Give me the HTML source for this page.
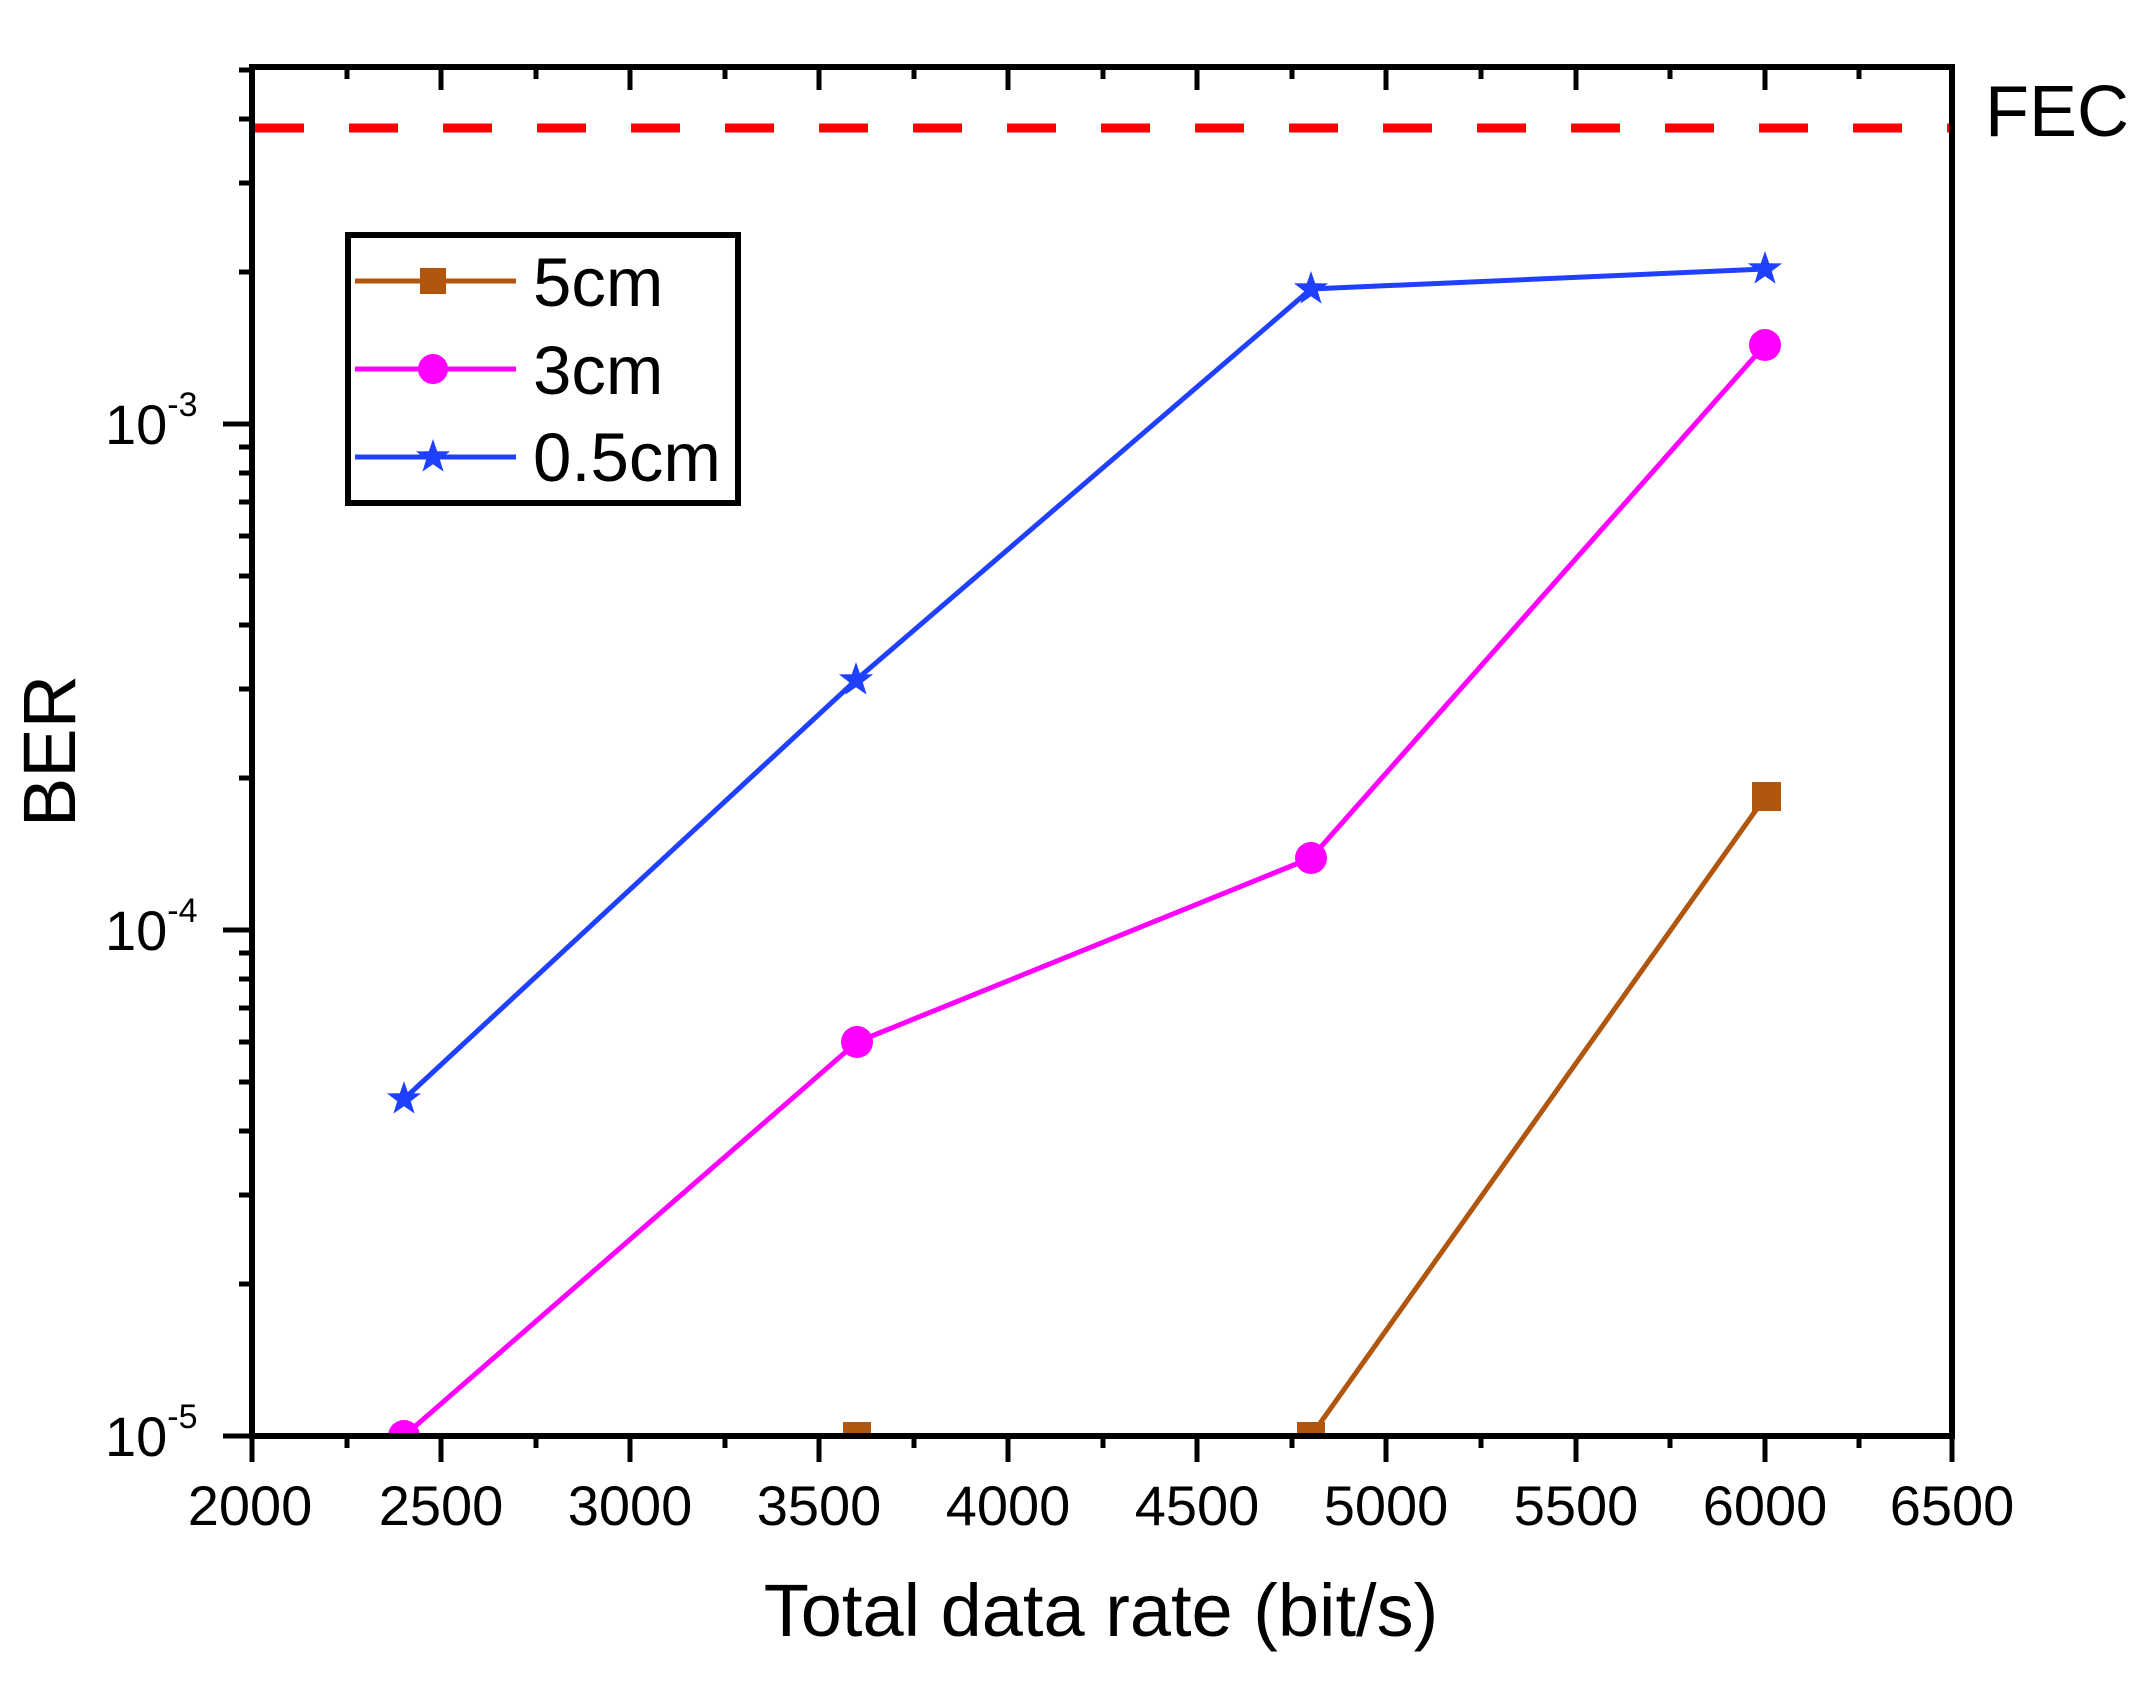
<!DOCTYPE html>
<html><head><meta charset="utf-8"><style>
html,body{margin:0;padding:0;background:#fff;}
svg{display:block;}
text{font-family:"Liberation Sans",Arial,sans-serif;fill:#000;}
</style></head><body>
<svg width="2147" height="1689" viewBox="0 0 2147 1689" xmlns="http://www.w3.org/2000/svg">
<defs>
<clipPath id="pc"><rect x="252" y="67" width="1700" height="1369"/></clipPath>
<polygon id="star" points="0,-18 4.2,-5.8 17.1,-5.6 6.8,2.2 10.6,14.6 0,7.2 -10.6,14.6 -6.8,2.2 -17.1,-5.6 -4.2,-5.8"/>
</defs>
<!-- FEC line -->
<line x1="255" y1="128" x2="1950" y2="128" stroke="#ff0000" stroke-width="9" stroke-dasharray="49,45"/>
<!-- series -->
<g clip-path="url(#pc)">
<polyline points="1311,1436 1766,796" fill="none" stroke="#B0560E" stroke-width="5"/>
<rect x="843" y="1422" width="28" height="28" fill="#B0560E"/>
<rect x="1297" y="1422" width="28" height="28" fill="#B0560E"/>
<rect x="1752" y="782" width="29" height="29" fill="#B0560E"/>
<polyline points="404,1436 857,1042 1311,858 1765,345" fill="none" stroke="#ff00ff" stroke-width="5"/>
<circle cx="404" cy="1436" r="16" fill="#ff00ff"/>
<circle cx="857" cy="1042" r="16" fill="#ff00ff"/>
<circle cx="1311" cy="858" r="16" fill="#ff00ff"/>
<circle cx="1765" cy="345" r="16" fill="#ff00ff"/>
<polyline points="404,1099 856,680 1311,289 1765,269" fill="none" stroke="#2040ff" stroke-width="5"/>
<use href="#star" x="404" y="1099" fill="#2040ff"/>
<use href="#star" x="856" y="680" fill="#2040ff"/>
<use href="#star" x="1311" y="289" fill="#2040ff"/>
<use href="#star" x="1765" y="269" fill="#2040ff"/>
</g>
<!-- axes frame -->
<rect x="252" y="67" width="1700" height="1369" fill="none" stroke="#000" stroke-width="6"/>
<g stroke="#000" stroke-width="5">
<!-- bottom major/minor -->
<line x1="252" y1="1436" x2="252" y2="1462"/><line x1="441" y1="1436" x2="441" y2="1462"/><line x1="630" y1="1436" x2="630" y2="1462"/><line x1="819" y1="1436" x2="819" y2="1462"/><line x1="1008" y1="1436" x2="1008" y2="1462"/><line x1="1197" y1="1436" x2="1197" y2="1462"/><line x1="1386" y1="1436" x2="1386" y2="1462"/><line x1="1576" y1="1436" x2="1576" y2="1462"/><line x1="1765" y1="1436" x2="1765" y2="1462"/><line x1="1952" y1="1436" x2="1952" y2="1462"/>
<line x1="347" y1="1436" x2="347" y2="1448"/><line x1="536" y1="1436" x2="536" y2="1448"/><line x1="725" y1="1436" x2="725" y2="1448"/><line x1="914" y1="1436" x2="914" y2="1448"/><line x1="1103" y1="1436" x2="1103" y2="1448"/><line x1="1292" y1="1436" x2="1292" y2="1448"/><line x1="1481" y1="1436" x2="1481" y2="1448"/><line x1="1670" y1="1436" x2="1670" y2="1448"/><line x1="1859" y1="1436" x2="1859" y2="1448"/>
<!-- top ticks inward -->
<line x1="441" y1="67" x2="441" y2="90"/><line x1="630" y1="67" x2="630" y2="90"/><line x1="819" y1="67" x2="819" y2="90"/><line x1="1008" y1="67" x2="1008" y2="90"/><line x1="1197" y1="67" x2="1197" y2="90"/><line x1="1386" y1="67" x2="1386" y2="90"/><line x1="1576" y1="67" x2="1576" y2="90"/><line x1="1765" y1="67" x2="1765" y2="90"/>
<line x1="347" y1="67" x2="347" y2="79"/><line x1="536" y1="67" x2="536" y2="79"/><line x1="725" y1="67" x2="725" y2="79"/><line x1="914" y1="67" x2="914" y2="79"/><line x1="1103" y1="67" x2="1103" y2="79"/><line x1="1292" y1="67" x2="1292" y2="79"/><line x1="1481" y1="67" x2="1481" y2="79"/><line x1="1670" y1="67" x2="1670" y2="79"/><line x1="1859" y1="67" x2="1859" y2="79"/>
<!-- left major -->
<line x1="223" y1="424" x2="252" y2="424"/><line x1="223" y1="930" x2="252" y2="930"/><line x1="223" y1="1436" x2="252" y2="1436"/>
<!-- left minor -->
<line x1="239" y1="1284" x2="252" y2="1284"/><line x1="239" y1="1195" x2="252" y2="1195"/><line x1="239" y1="1131" x2="252" y2="1131"/><line x1="239" y1="1082" x2="252" y2="1082"/><line x1="239" y1="1042" x2="252" y2="1042"/><line x1="239" y1="1008" x2="252" y2="1008"/><line x1="239" y1="979" x2="252" y2="979"/><line x1="239" y1="953" x2="252" y2="953"/>
<line x1="239" y1="778" x2="252" y2="778"/><line x1="239" y1="689" x2="252" y2="689"/><line x1="239" y1="625" x2="252" y2="625"/><line x1="239" y1="576" x2="252" y2="576"/><line x1="239" y1="536" x2="252" y2="536"/><line x1="239" y1="502" x2="252" y2="502"/><line x1="239" y1="473" x2="252" y2="473"/><line x1="239" y1="447" x2="252" y2="447"/>
<line x1="239" y1="272" x2="252" y2="272"/><line x1="239" y1="183" x2="252" y2="183"/><line x1="239" y1="119" x2="252" y2="119"/><line x1="239" y1="70" x2="252" y2="70"/>
</g>
<!-- x tick labels -->
<g font-size="56" text-anchor="middle">
<text x="250" y="1525">2000</text><text x="441" y="1525">2500</text><text x="630" y="1525">3000</text><text x="819" y="1525">3500</text><text x="1008" y="1525">4000</text><text x="1197" y="1525">4500</text><text x="1386" y="1525">5000</text><text x="1576" y="1525">5500</text><text x="1765" y="1525">6000</text><text x="1952" y="1525">6500</text>
</g>
<!-- y tick labels -->
<g font-size="56">
<text x="105" y="444">10<tspan font-size="34" dy="-28">-3</tspan></text>
<text x="105" y="950">10<tspan font-size="34" dy="-28">-4</tspan></text>
<text x="105" y="1456">10<tspan font-size="34" dy="-28">-5</tspan></text>
</g>
<!-- titles -->
<text x="1101" y="1636" font-size="74" text-anchor="middle">Total data rate (bit/s)</text>
<text transform="translate(75,751) rotate(-90)" font-size="74" text-anchor="middle">BER</text>
<text x="1985" y="136" font-size="72">FEC</text>
<!-- legend -->
<rect x="348" y="235" width="390" height="268" fill="#fff" stroke="#000" stroke-width="6"/>
<line x1="355" y1="281" x2="516" y2="281" stroke="#B0560E" stroke-width="5"/>
<rect x="420" y="268" width="26" height="26" fill="#B0560E"/>
<line x1="355" y1="369" x2="516" y2="369" stroke="#ff00ff" stroke-width="5"/>
<circle cx="433" cy="369" r="15" fill="#ff00ff"/>
<line x1="355" y1="457" x2="516" y2="457" stroke="#2040ff" stroke-width="5"/>
<use href="#star" x="433" y="457" fill="#2040ff"/>
<g font-size="69">
<text x="533" y="306">5cm</text>
<text x="533" y="394">3cm</text>
<text x="533" y="481">0.5cm</text>
</g>
</svg>
</body></html>
